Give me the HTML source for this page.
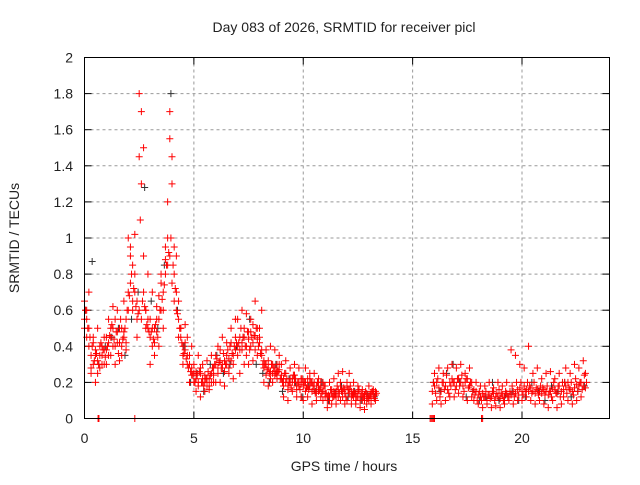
<!DOCTYPE html>
<html><head><meta charset="utf-8"><style>
body{margin:0;background:#fff}
svg text{font-family:"Liberation Sans",sans-serif;font-size:14px;fill:#222}
</style></head><body>
<svg id="c" width="640" height="480" viewBox="0 0 640 480" xmlns="http://www.w3.org/2000/svg">
<text x="344" y="32" text-anchor="middle">Day 083 of 2026, SRMTID for receiver picl</text>
<text x="344" y="471" text-anchor="middle">GPS time / hours</text>
<text x="19" y="238" text-anchor="middle" transform="rotate(-90 19 238)">SRMTID / TECUs</text>
<g id="grid"></g>
<g id="ticks"></g>
<g id="blk" stroke="#333" stroke-width="1"></g>
<g id="red" stroke="#ff0000" stroke-width="1"></g>
<rect x="84.5" y="57.5" width="525" height="361" fill="none" stroke="#000" stroke-width="1"/>
</svg>
<script>
const xTicks=[0,5,10,15,20];
const yTicks=[0,0.2,0.4,0.6,0.8,1,1.2,1.4,1.6,1.8,2];
const yTickLabels=["0","0.2","0.4","0.6","0.8","1","1.2","1.4","1.6","1.8","2"];
const seg1Start=0, seg2Start=15.9, step=0.1, blackStep=0.3;
const seg1A=[.55,.6,.5,.35,.3,.38,.32,.35,.4,.3,.38,.42,.45,.5,.4,.48,.42,.5,.45,.55,.6,.75,.85,.7,.65,.6,.55,.7,.6,.5,.45,.5,.42,.48,.55,.6,.7,.8,.85,.9,.75,.65,.6,.55,.45,.4,.38,.35,.3,.28,.25,.22,.2,.25,.22,.2,.18,.22,.25,.28,.3,.28,.32,.3,.26,.3,.33,.32,.35,.38,.4,.38,.42,.45,.4,.44,.48,.42,.46,.44,.42,.38,.32,.3,.28,.26,.25,.28,.3,.27,.24,.22,.2,.18,.2,.22,.2,.18,.2,.19,.18,.2,.22,.18,.2,.16,.14,.18,.2,.15,.12,.1,.12,.14,.15,.12,.16,.18,.15,.14,.18,.16,.15,.12,.14,.12,.1,.12,.1,.14,.12,.14,.15,.13];
const seg1B=[.65,.45,.7,.25,.45,.2,.5,.28,.3,.45,.3,.55,.35,.62,.3,.6,.32,.4,.65,.42,1.0,.95,.6,1.02,.45,1.8,1.3,1.5,.5,.8,.3,.7,.35,.62,.4,.8,.5,.95,1.0,1.55,1.45,.8,.9,.45,.5,.3,.52,.45,.2,.4,.3,.15,.35,.12,.3,.15,.32,.18,.35,.2,.2,.4,.2,.45,.18,.42,.25,.5,.22,.55,.55,.25,.6,.3,.58,.3,.55,.32,.65,.35,.5,.6,.2,.38,.18,.4,.2,.38,.22,.35,.3,.12,.32,.1,.28,.15,.3,.12,.28,.12,.1,.28,.12,.25,.08,.25,.1,.22,.12,.1,.18,.06,.2,.08,.22,.08,.25,.1,.26,.08,.1,.25,.08,.2,.08,.18,.06,.16,.05,.08,.18,.08,.16,.1];
const seg1C=[.5,.55,.4,.28,.42,.35,.25,.4,.35,.38,.45,.35,.5,.4,.55,.42,.5,.35,.48,.38,.7,.9,.65,.8,.55,1.45,1.7,.9,.6,.55,.55,.4,.5,.55,.68,.75,.6,.88,1.2,1.7,1.3,.95,.7,.65,.5,.35,.42,.3,.35,.24,.2,.26,.18,.28,.2,.24,.22,.16,.2,.24,.35,.25,.38,.28,.32,.35,.28,.42,.3,.45,.35,.45,.38,.5,.35,.48,.4,.52,.38,.5,.45,.35,.28,.24,.32,.22,.3,.24,.26,.3,.22,.18,.25,.16,.22,.2,.24,.16,.18,.22,.2,.15,.18,.22,.15,.2,.18,.15,.17,.2,.14,.12,.1,.16,.12,.15,.12,.2,.12,.16,.2,.14,.12,.15,.1,.15,.12,.1,.13,.12,.1,.12,.13,.15];
const seg1D=[.6,.5,.45,.4,.32,.36,.3,.42,.38,.34,.4,.46,.52,.44,.48,.36,.55,.44,.5,.6,.68,.8,.72,.62,.58,1.1,.65,.62,.52,.48,.48,.44,.52,.45,.6,.66,.74,.85,.92,1.0,.85,.72,.58,.5,.42,.36,.33,.28,.26,.24,.2,.24,.26,.2,.18,.22,.26,.24,.28,.3,.33,.31,.28,.36,.3,.38,.4,.36,.4,.42,.42,.5,.45,.4,.48,.38,.45,.46,.5,.4,.36,.3,.3,.27,.25,.3,.28,.25,.26,.22,.2,.25,.22,.2,.17,.24,.22,.2,.16,.22,.2,.17,.16,.2,.18,.14,.2,.16,.14,.18,.14,.13,.16,.12,.13,.18,.14,.15,.17,.12,.16,.18,.13,.14,.12,.16,.14,.12,.15,.11,.13,.15,.11,.14];
const seg2A=[.15,.18,.2,.17,.15,.2,.18,.16,.2,.22,.2,.18,.22,.2,.18,.2,.22,.18,.2,.16,.15,.13,.12,.14,.12,.1,.13,.12,.14,.12,.12,.11,.13,.12,.14,.12,.13,.15,.14,.16,.17,.15,.18,.16,.15,.17,.15,.14,.16,.15,.14,.16,.15,.13,.15,.17,.16,.14,.18,.15,.16,.18,.2,.16,.15,.17,.19,.18,.2,.18,.17];
const seg2B=[.08,.25,.1,.28,.08,.25,.1,.28,.12,.3,.12,.28,.14,.3,.12,.25,.1,.28,.12,.1,.2,.08,.18,.06,.18,.08,.2,.06,.17,.07,.2,.06,.18,.08,.2,.1,.38,.08,.35,.1,.3,.1,.28,.12,.4,.1,.25,.08,.28,.1,.22,.08,.25,.06,.26,.1,.22,.06,.25,.08,.12,.28,.1,.25,.08,.3,.1,.28,.12,.32,.25];
const seg2C=[.2,.14,.22,.12,.2,.16,.24,.14,.18,.2,.16,.22,.18,.24,.15,.22,.17,.2,.15,.13,.1,.15,.1,.12,.15,.13,.11,.15,.1,.14,.16,.14,.1,.15,.12,.15,.18,.12,.2,.13,.2,.13,.15,.2,.18,.14,.2,.17,.13,.18,.17,.13,.18,.15,.12,.2,.14,.18,.12,.2,.2,.14,.17,.2,.13,.22,.15,.2,.16,.24,.2];
const black1=[.6,.87,.3,.4,.45,.5,.35,.55,.7,1.28,.65,.5,.85,1.8,.6,.4,.2,.25,.15,.3,.35,.25,.3,.4,.45,.55,.3,.25,.2,.3,.15,.22,.2,.12,.18,.15,.2,.1,.14,.18,.12,.15,.1,.13,.12];
const black2=[.2,.15,.25,.3,.2,.12,.15,.1,.12,.2,.1,.13,.15,.1,.12,.2,.15,.1,.18,.15,.2,.12,.15,.18];
const zeroTimes=[0.62,0.66,2.3,15.8,15.85,15.9,15.95,16.0,18.15,18.2];

const X0=84.5,X1=609.5,Y0=418.5,Y1=57.5,XMAX=24,YMAX=2;
const sx=v=>X0+(v/XMAX)*(X1-X0);
const sy=v=>Y0-(v/YMAX)*(Y0-Y1);
const NS="http://www.w3.org/2000/svg";
function mk(tag,attrs,parent){const e=document.createElementNS(NS,tag);for(const k in attrs)e.setAttribute(k,attrs[k]);parent.appendChild(e);return e;}
const grid=document.getElementById('grid'),ticks=document.getElementById('ticks'),svg=document.getElementById('c');
xTicks.forEach(t=>{
  const x=sx(t);
  if(t>0){const g=mk('line',{x1:x,x2:x,y1:Y1,y2:Y0,stroke:'#999','stroke-dasharray':'3,3'},grid);
  
  }
  mk('line',{x1:x,x2:x,y1:Y0,y2:Y0-7,stroke:'#000'},ticks);
  mk('line',{x1:x,x2:x,y1:Y1,y2:Y1+7,stroke:'#000'},ticks);
  const l=mk('text',{x:x,y:443,'text-anchor':'middle'},svg);l.textContent=String(t);
  
  
});
yTicks.forEach((t,i)=>{
  const y=sy(t);
  if(t>0&&t<YMAX){const g=mk('line',{x1:X0,x2:X1,y1:y,y2:y,stroke:'#999','stroke-dasharray':'3,3'},grid);
  
  }
  mk('line',{x1:X0,x2:X0+7,y1:y,y2:y,stroke:'#000'},ticks);
  mk('line',{x1:X1,x2:X1-7,y1:y,y2:y,stroke:'#000'},ticks);
  const l=mk('text',{x:73,y:y+5,'text-anchor':'end'},svg);l.textContent=yTickLabels[i];
  
  
});
function plus(g,t,v){
  const x=sx(t),y=sy(v);
  const p=mk('path',{d:`M${x-3.5},${y}h7M${x},${y-3.5}v7`},g);
  
  
}
const blk=document.getElementById('blk'),red=document.getElementById('red');
black1.forEach((v,i)=>plus(blk,seg1Start+i*blackStep+0.05,v));
black2.forEach((v,i)=>plus(blk,seg2Start+i*blackStep+0.05,v));
[seg1A,seg1B,seg1C].forEach(a=>a.forEach((v,i)=>plus(red,seg1Start+i*step,v)));
seg1D.forEach((v,i)=>plus(red,seg1Start+i*step+0.05,v));
[seg2A,seg2B].forEach(a=>a.forEach((v,i)=>plus(red,seg2Start+i*step,v)));
seg2C.forEach((v,i)=>plus(red,seg2Start+i*step+0.05,v));
zeroTimes.forEach(t=>plus(red,t,0));
</script>
</body></html>
